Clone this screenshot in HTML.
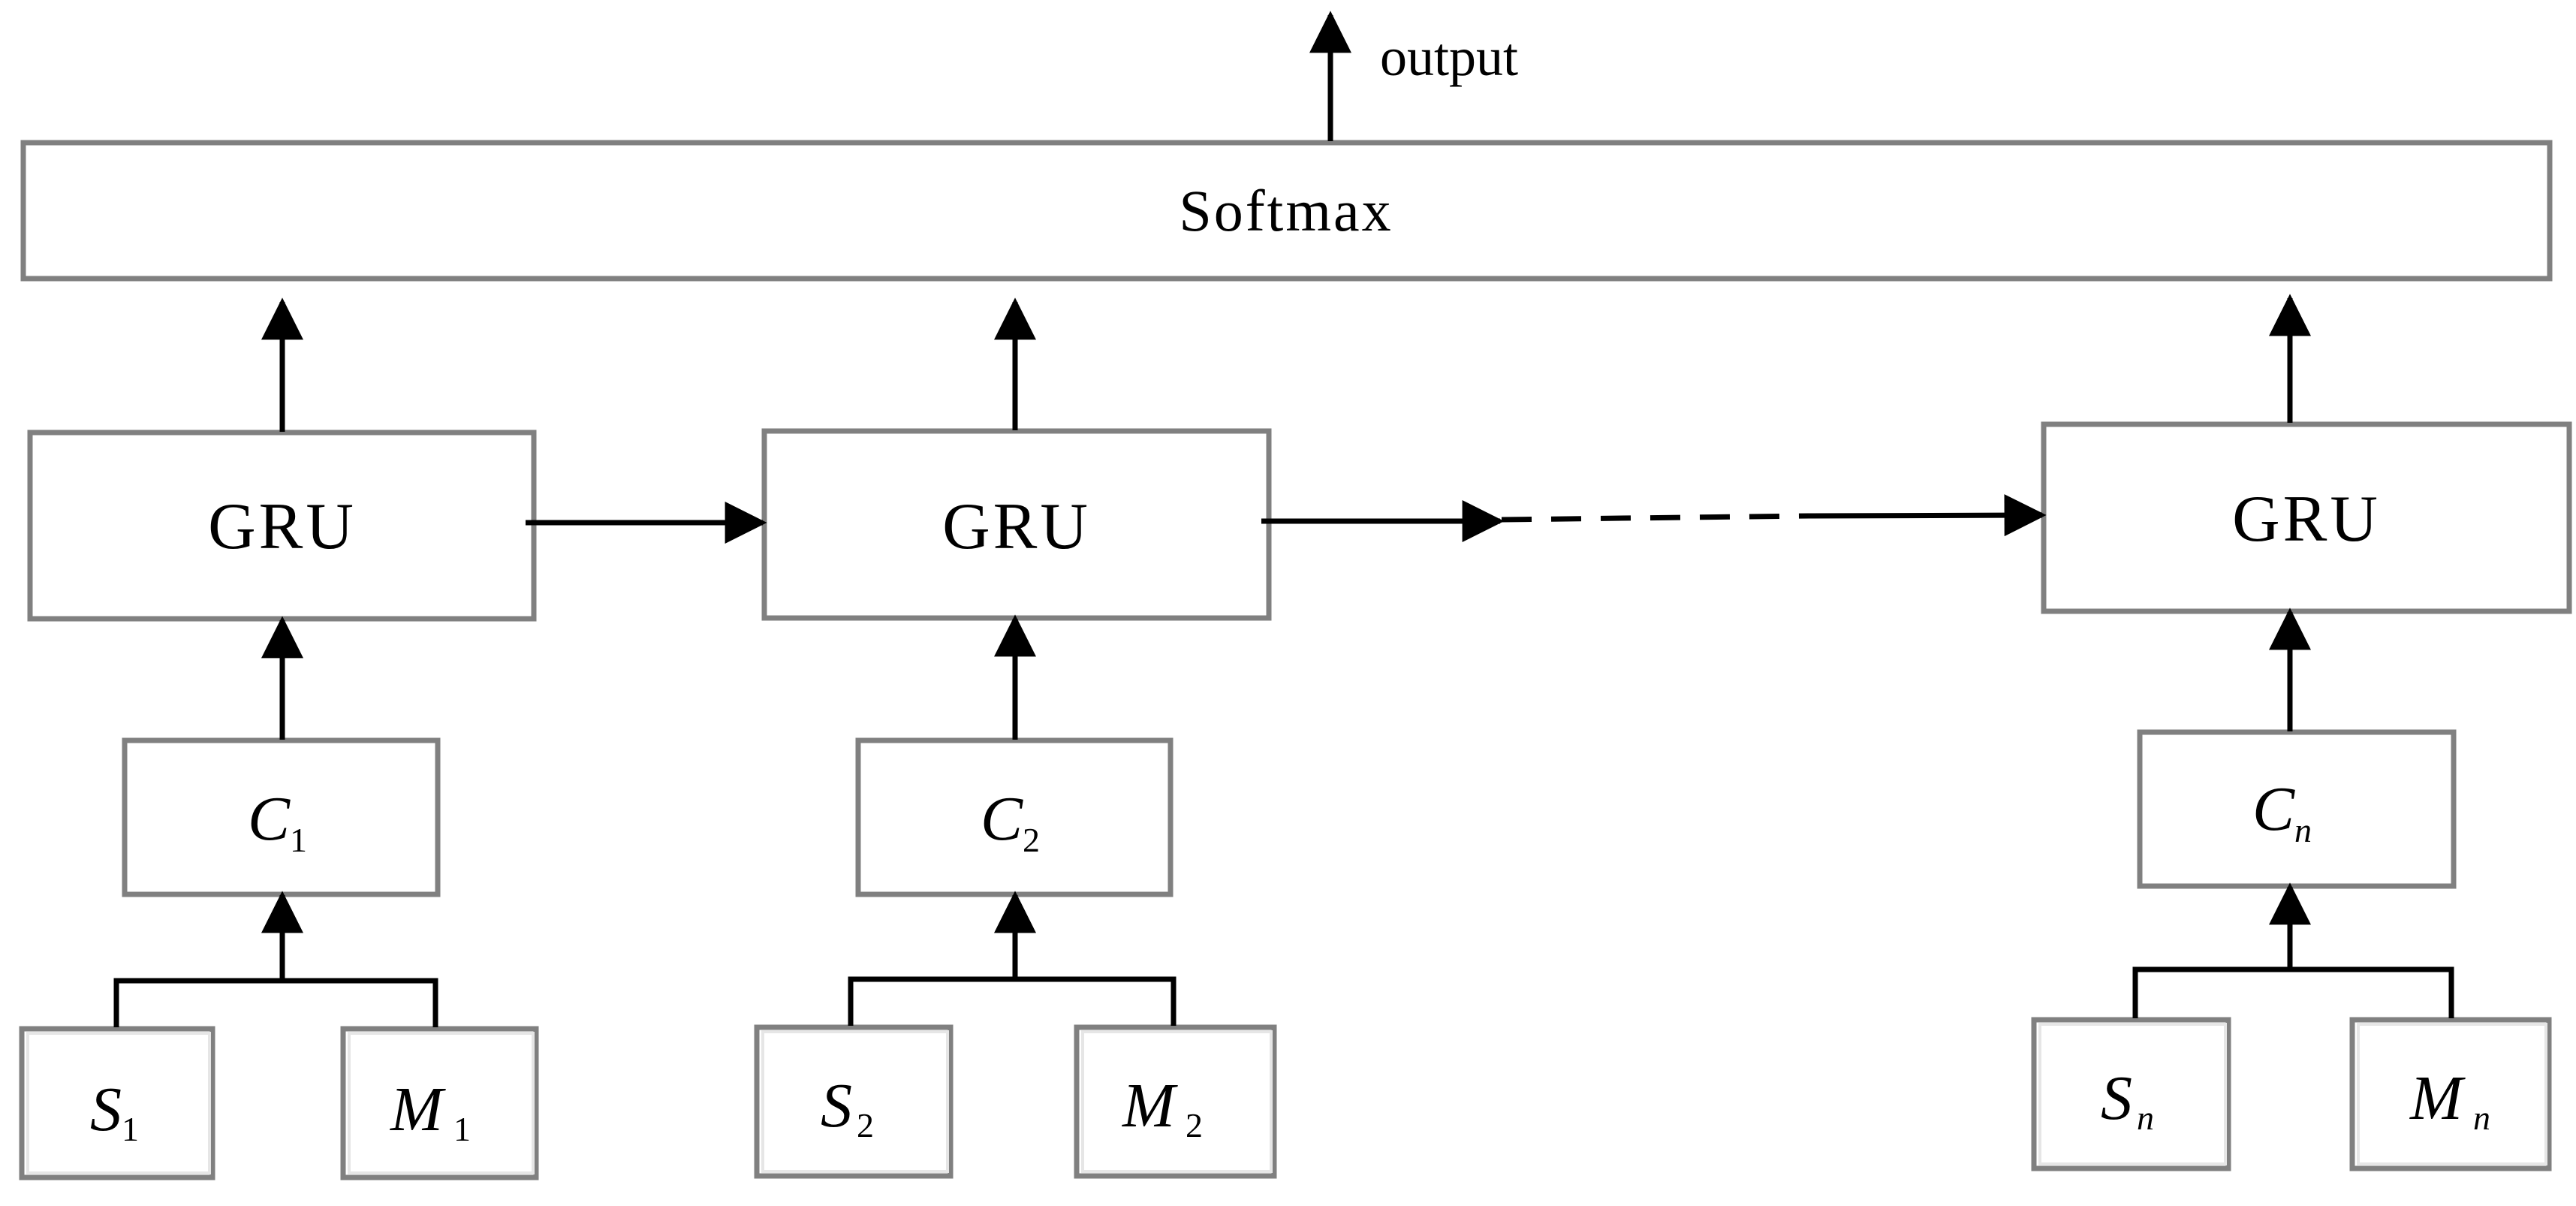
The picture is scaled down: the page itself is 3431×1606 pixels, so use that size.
<!DOCTYPE html>
<html><head><meta charset="utf-8"><style>
html,body{margin:0;padding:0;background:#fff;}
svg{display:block;}
text{font-family:"Liberation Serif",serif;fill:#000;}
</style></head><body>
<svg width="3431" height="1606" viewBox="0 0 3431 1606" xmlns="http://www.w3.org/2000/svg">
<defs>
<marker id="a" viewBox="0 0 10 10" refX="9" refY="5" markerWidth="8" markerHeight="8" markerUnits="strokeWidth" orient="auto"><path d="M0,0 L10,5 L0,10 z" fill="#000"/></marker>
</defs>
<g fill="#fff" stroke="#808080" stroke-width="7">
<rect x="31" y="190" width="3365" height="181"/>
<rect x="40" y="576" width="671" height="248"/>
<rect x="1018" y="574" width="672" height="249"/>
<rect x="2722" y="565" width="700" height="249"/>
<rect x="166" y="986" width="417" height="205"/>
<rect x="1143" y="986" width="416" height="205"/>
<rect x="2850" y="975" width="418" height="205"/>
<rect x="29" y="1370" width="254" height="198"/>
<rect x="457" y="1370" width="257" height="198"/>
<rect x="1008" y="1368" width="258" height="198"/>
<rect x="1434" y="1368" width="263" height="198"/>
<rect x="2709" y="1358" width="259" height="198"/>
<rect x="3133" y="1358" width="262" height="198"/>
</g>
<g fill="none" stroke="#e6e6e6" stroke-width="4">
<rect x="37" y="1376" width="242" height="186"/>
<rect x="465" y="1376" width="245" height="186"/>
<rect x="1016" y="1374" width="246" height="186"/>
<rect x="1442" y="1374" width="251" height="186"/>
<rect x="2717" y="1364" width="247" height="186"/>
<rect x="3141" y="1364" width="250" height="186"/>
</g>
<g stroke="#000" stroke-width="7" fill="none">
<line x1="1772" y1="188" x2="1772" y2="20" marker-end="url(#a)"/>
<line x1="376" y1="575" x2="376" y2="402" marker-end="url(#a)"/>
<line x1="1352" y1="573" x2="1352" y2="402" marker-end="url(#a)"/>
<line x1="3050" y1="563" x2="3050" y2="397" marker-end="url(#a)"/>
<line x1="376" y1="985" x2="376" y2="826" marker-end="url(#a)"/>
<line x1="1352" y1="985" x2="1352" y2="824" marker-end="url(#a)"/>
<line x1="3050" y1="974" x2="3050" y2="815" marker-end="url(#a)"/>
<line x1="376" y1="1306" x2="376" y2="1192" marker-end="url(#a)"/>
<line x1="1352" y1="1304" x2="1352" y2="1192" marker-end="url(#a)"/>
<line x1="3050" y1="1291" x2="3050" y2="1181" marker-end="url(#a)"/>
<polyline points="155,1368 155,1306 580,1306 580,1368"/>
<polyline points="1133,1366 1133,1304 1563,1304 1563,1366"/>
<polyline points="2844,1356 2844,1291 3265,1291 3265,1356"/>
<line x1="700" y1="696" x2="1016" y2="696" marker-end="url(#a)"/>
<line x1="1680" y1="694" x2="1998" y2="694" marker-end="url(#a)"/>
<line x1="2000" y1="692" x2="2410" y2="687" stroke-dasharray="40,26"/>
<line x1="2410" y1="687" x2="2720" y2="686" marker-end="url(#a)"/>
</g>
<text x="1838" y="100" font-size="72">output</text>
<text x="1713" y="307" font-size="78" text-anchor="middle" letter-spacing="3">Softmax</text>
<text x="376" y="730" font-size="88" text-anchor="middle" letter-spacing="4">GRU</text>
<text x="1354" y="730" font-size="88" text-anchor="middle" letter-spacing="4">GRU</text>
<text x="3072" y="720" font-size="88" text-anchor="middle" letter-spacing="4">GRU</text>
<g font-style="italic" font-size="84">
<text x="330" y="1118">C<tspan font-size="46" font-style="normal" dy="16">1</tspan></text>
<text x="1306" y="1118">C<tspan font-size="46" font-style="normal" dy="16">2</tspan></text>
<text x="3000" y="1105">C<tspan font-size="46" dy="16">n</tspan></text>
<text x="120" y="1505">S<tspan font-size="46" font-style="normal" dy="14">1</tspan></text>
<text x="520" y="1505">M<tspan font-size="46" font-style="normal" dy="14" dx="14">1</tspan></text>
<text x="1093" y="1500">S<tspan font-size="46" font-style="normal" dy="14" dx="6">2</tspan></text>
<text x="1495" y="1500">M<tspan font-size="46" font-style="normal" dy="14" dx="14">2</tspan></text>
<text x="2798" y="1490">S<tspan font-size="46" dy="14" dx="6">n</tspan></text>
<text x="3210" y="1490">M<tspan font-size="46" dy="14" dx="14">n</tspan></text>
</g>
</svg>
</body></html>
